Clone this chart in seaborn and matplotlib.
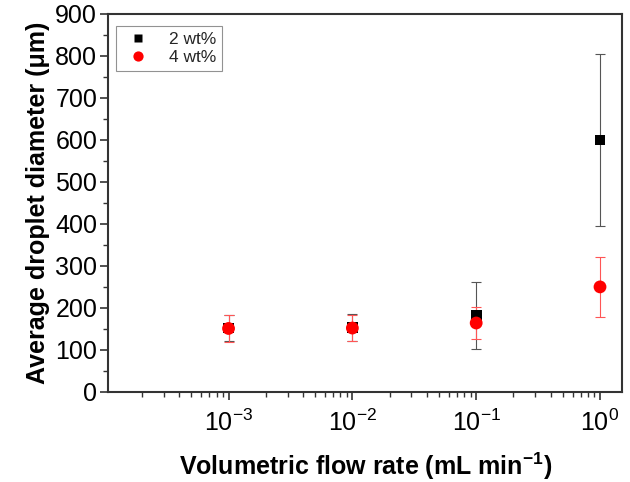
import numpy as np
import pandas as pd
import matplotlib
matplotlib.use("Agg")
import matplotlib.pyplot as plt
import matplotlib.ticker as mticker
import seaborn as sns

# data
flow_rate = [1e-3, 1e-2, 1e-1, 1e0]
d_2wt = [152, 153, 181, 600]
err_2wt = [32, 32, 80, 205]
d_4wt = [151, 152, 164, 250]
err_4wt = [32, 32, 37, 72]

sns.set_theme(style="white")
plt.rcParams['font.family'] = ['Liberation Sans', 'DejaVu Sans']
plt.rcParams['mathtext.fontset'] = 'custom'
plt.rcParams['mathtext.rm'] = 'Liberation Sans'
plt.rcParams['mathtext.bf'] = 'Liberation Sans:bold'
plt.rcParams['mathtext.default'] = 'regular'

df = pd.DataFrame({
    "flow": flow_rate * 2,
    "diameter": d_2wt + d_4wt,
    "conc": ["2 wt%"] * 4 + ["4 wt%"] * 4,
})

fig, ax = plt.subplots(figsize=(6.3, 4.82), dpi=100)

ax.errorbar(flow_rate, d_2wt, yerr=err_2wt, fmt="none", ecolor="#555555",
            elinewidth=0.8, capsize=3.5, capthick=0.8, zorder=2)
ax.errorbar(flow_rate, d_4wt, yerr=err_4wt, fmt="none", ecolor="#ff5555",
            elinewidth=0.8, capsize=3.5, capthick=0.8, zorder=3)
sns.scatterplot(data=df, x="flow", y="diameter", hue="conc", style="conc", size="conc",
                palette={"2 wt%": "black", "4 wt%": "red"},
                markers={"2 wt%": "s", "4 wt%": "o"},
                sizes={"2 wt%": 60, "4 wt%": 85},
                edgecolor="none", ax=ax, zorder=4)

ax.set_xscale("log")
ax.set_xlim(1.07e-4, 1.5)
ax.set_ylim(0, 900)
ax.yaxis.set_major_locator(mticker.MultipleLocator(100))
ax.yaxis.set_minor_locator(mticker.MultipleLocator(50))
ax.xaxis.set_major_locator(mticker.FixedLocator(flow_rate))
ax.xaxis.set_major_formatter(mticker.FuncFormatter(lambda v, p: "10$^{%d}$" % round(np.log10(v))))
ax.xaxis.set_minor_locator(mticker.LogLocator(base=10, subs=np.arange(2, 10), numticks=20))
ax.xaxis.set_minor_formatter(mticker.NullFormatter())

ax.tick_params(axis="both", which="major", direction="out", length=6, width=1.2,
               labelsize=18, bottom=True, left=True, top=False, right=False,
               color="#333333", labelcolor="black", pad=2)
ax.tick_params(axis="x", which="major", pad=7)
ax.tick_params(axis="both", which="minor", direction="out", length=3.5, width=1,
               bottom=True, left=True, top=False, right=False, color="#333333")
for s in ax.spines.values():
    s.set_linewidth(1.5)
    s.set_color("#333333")

ax.set_xlabel("Volumetric flow rate (mL min$^{-1}$)", fontsize=18, fontweight="bold",
              labelpad=10, color="black")
ax.set_ylabel("Average droplet diameter (\u03bcm)", fontsize=18, fontweight="bold",
              labelpad=4, color="black")

leg = ax.legend(loc="upper left", fontsize=12.5, frameon=True, fancybox=False,
                edgecolor="#777777", borderpad=0.3, handletextpad=0.8,
                labelspacing=0.2, bbox_to_anchor=(-0.003, 0.99), markerscale=0.8)
leg.get_frame().set_linewidth(0.8)

fig.subplots_adjust(left=0.172, right=0.987, top=0.971, bottom=0.187)
fig.savefig("out.png", dpi=100)
